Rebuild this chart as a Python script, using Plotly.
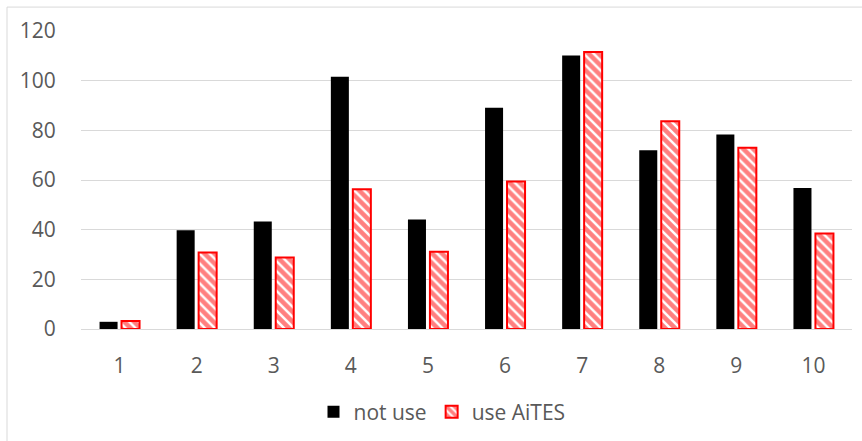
import plotly.graph_objects as go

# Data
categories = ["1", "2", "3", "4", "5", "6", "7", "8", "9", "10"]
not_use = [2.9, 39.8, 43.3, 101.6, 44.1, 89.1, 110.1, 72.0, 78.3, 56.8]
use_aites = [3.2, 30.8, 28.8, 56.3, 31.1, 59.4, 111.5, 83.7, 73.0, 38.5]
y_ticks = [0, 20, 40, 60, 80, 100, 120]

FONT = "Open Sans"
TEXT_COLOR = "#595959"
GRID_COLOR = "#d9d9d9"

W, H = 862, 441
M_L, M_R, M_T, M_B = 81, 10, 31, 111

fig = go.Figure()
fig.add_trace(go.Bar(
    name="not use", x=categories, y=not_use,
    marker=dict(color="black", line=dict(width=0)),
))
fig.add_trace(go.Bar(
    name="use AiTES", x=categories, y=use_aites,
    marker=dict(
        color="white",
        line=dict(color="#ff0000", width=2),
        pattern=dict(shape="\\", fgcolor="#ff0000", bgcolor="white",
                     size=7, solidity=0.65),
    ),
))

# Chart-area frame (top and left edges)
pw = W - M_L - M_R
ph = H - M_T - M_B
def px_x(x):
    return (x - M_L) / pw
def px_y(y):
    return (H - M_B - y) / ph

fig.add_shape(type="line", xref="paper", yref="paper",
              x0=px_x(7), x1=px_x(870), y0=px_y(7), y1=px_y(7),
              line=dict(color=GRID_COLOR, width=1))
fig.add_shape(type="line", xref="paper", yref="paper",
              x0=px_x(7), x1=px_x(7), y0=px_y(7), y1=px_y(450),
              line=dict(color=GRID_COLOR, width=1))

fig.update_layout(
    width=W, height=H,
    margin=dict(l=M_L, r=M_R, t=M_T, b=M_B),
    paper_bgcolor="white", plot_bgcolor="white",
    barmode="group", bargap=0.43, bargroupgap=0.18,
    font=dict(family=FONT, size=21, color=TEXT_COLOR),
    showlegend=True,
    legend=dict(orientation="h", x=px_x(442), xanchor="center",
                y=px_y(412), yanchor="middle",
                font=dict(family=FONT, size=21, color=TEXT_COLOR),
                itemwidth=30, traceorder="normal"),
)
fig.update_xaxes(
    showgrid=False, zeroline=False, showline=False,
    ticks="outside", ticklen=18, tickcolor="rgba(0,0,0,0)",
    tickfont=dict(family=FONT, size=21, color=TEXT_COLOR),
)
fig.update_yaxes(
    range=[0, 120], tickvals=y_ticks,
    showgrid=True, gridcolor=GRID_COLOR, gridwidth=1,
    zeroline=True, zerolinecolor=GRID_COLOR, zerolinewidth=1,
    showline=False,
    ticks="outside", ticklen=20, tickcolor="rgba(0,0,0,0)",
    tickfont=dict(family=FONT, size=21, color=TEXT_COLOR),
)

fig.write_html("out.html")
